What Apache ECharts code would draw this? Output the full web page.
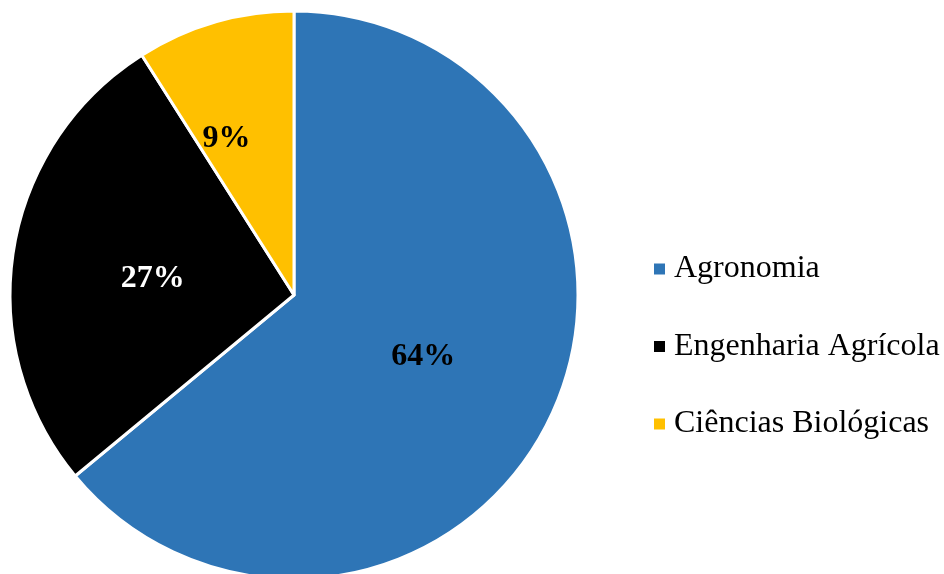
<!DOCTYPE html>
<html>
<head>
<meta charset="utf-8">
<script src="https://cdn.jsdelivr.net/npm/echarts@6/dist/echarts.min.js"></script>
<style>
  html, body { margin: 0; padding: 0; background: #ffffff; }
  #chart { width: 944px; height: 574px; }
</style>
</head>
<body>
<div id="chart"></div>
<script>
// Share of students by course
const categories = ['Agronomia', 'Engenharia Agrícola', 'Ciências Biológicas'];
const shares = [64, 27, 9];
const sliceColors = ['#2E75B6', '#000000', '#FFC000'];
const labelColors = ['#000000', '#ffffff', '#000000'];

const chart = echarts.init(document.getElementById('chart'), null, { renderer: 'canvas' });

const data = categories.map((name, i) => ({
  name: name,
  value: shares[i],
  itemStyle: { color: sliceColors[i] },
  label: { color: labelColors[i] }
}));

// small per-slice label nudges
const labelShift = [{ dx: -2, dy: 0 }, { dx: 2, dy: 6 }, { dx: -27, dy: -17 }];

chart.setOption({
  animation: false,
  backgroundColor: '#ffffff',
  legend: {
    orient: 'vertical',
    left: 647,
    top: 248,
    icon: 'rect',
    itemWidth: 13,
    itemHeight: 13,
    itemGap: 45.5,
    selectedMode: false,
    data: categories,
    textStyle: {
      fontFamily: '"Liberation Serif", "Times New Roman", serif',
      fontSize: 32,
      lineHeight: 32,
      color: '#000000',
      padding: [0, 0, 0, 3]
    }
  },
  series: [{
    type: 'pie',
    center: [294, 295],
    radius: [0, 284],
    startAngle: 90,
    clockwise: true,
    avoidLabelOverlap: false,
    itemStyle: { borderColor: '#ffffff', borderWidth: 3 },
    label: {
      show: true,
      position: 'inside',
      formatter: '{c}%',
      fontFamily: '"Liberation Serif", "Times New Roman", serif',
      fontWeight: 'bold',
      fontSize: 32
    },
    labelLine: { show: false },
    emphasis: { disabled: true },
    labelLayout: function (params) {
      return labelShift[params.dataIndex] || {};
    },
    data: data
  }]
});
</script>
</body>
</html>
